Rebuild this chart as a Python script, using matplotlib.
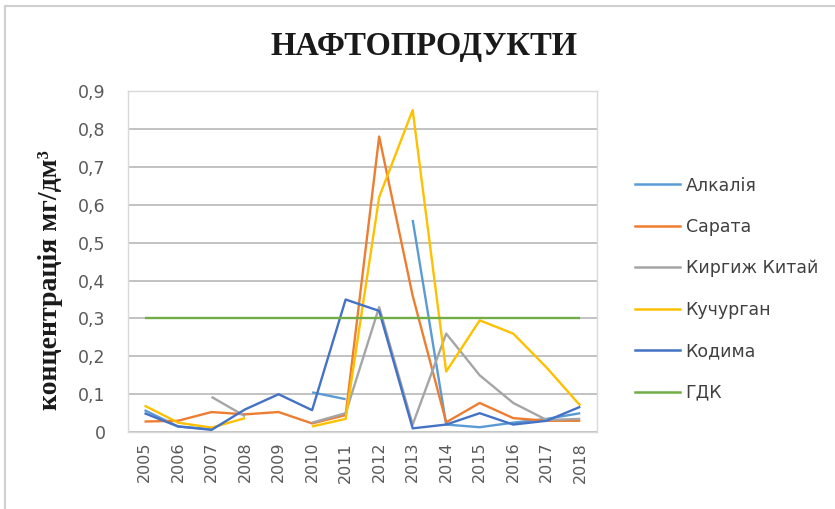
import numpy as np
import matplotlib.pyplot as plt
from matplotlib.lines import Line2D

nan = np.nan

years = list(range(2005, 2019))

# значення концентрації нафтопродуктів, мг/дм3
alkaliia = [0.058, 0.015, 0.008, nan, nan, 0.105, 0.087, nan, 0.56, 0.02, 0.013, 0.025, 0.035, 0.05]
sarata = [0.028, 0.03, 0.053, 0.047, 0.053, 0.023, 0.045, 0.78, 0.36, 0.026, 0.077, 0.037, 0.03, 0.03]
kyrhyzh_kytai = [nan, nan, 0.093, 0.042, nan, 0.025, 0.05, 0.33, 0.02, 0.26, 0.15, 0.077, 0.032, 0.035]
kuchurhan = [0.07, 0.025, 0.012, 0.037, nan, 0.015, 0.035, 0.62, 0.85, 0.16, 0.295, 0.26, 0.17, 0.07]
kodyma = [0.05, 0.015, 0.006, 0.06, 0.1, 0.058, 0.35, 0.32, 0.01, 0.02, 0.05, 0.02, 0.03, 0.067]
gdk = [0.3] * len(years)

series = [
    ("Алкалія", alkaliia, "#5B9BD5"),
    ("Сарата", sarata, "#ED7D31"),
    ("Киргиж Китай", kyrhyzh_kytai, "#A5A5A5"),
    ("Кучурган", kuchurhan, "#FFC000"),
    ("Кодима", kodyma, "#4472C4"),
    ("ГДК", gdk, "#70AD47"),
]

fig = plt.figure(figsize=(8.35, 5.09), dpi=100)
ax = fig.add_axes([0.153, 0.151, 0.562, 0.670])

for name, vals, col in series:
    ax.plot(years, vals, color=col, linewidth=1.7, label=name, solid_capstyle='butt')

ax.set_xlim(2004.5, 2018.5)
ax.set_ylim(0, 0.9)
ax.set_yticks(np.arange(0, 0.91, 0.1))
ax.set_yticklabels(["0"] + [f"{v:.1f}".replace(".", ",") for v in np.arange(0.1, 0.91, 0.1)])
ax.set_xticks(years)
ax.set_xticklabels([str(y) for y in years], rotation=90)
ax.tick_params(axis='both', length=0, colors='#595959')
ax.tick_params(axis='x', labelsize=11.5, pad=7)
ax.tick_params(axis='y', labelsize=12.5, pad=16)
ax.grid(axis='y', color='#BDBDBD', linewidth=1.3)
ax.set_axisbelow(True)
for s in ax.spines.values():
    s.set_color('#D9D9D9')
    s.set_linewidth(1.0)

fig.text(0.508, 0.908, "НАФТОПРОДУКТИ", ha='center', va='center',
         fontsize=23.5, fontweight='bold', family='Liberation Serif', color='#1a1a1a')
fig.text(0.06, 0.45, "концентрація мг/дм³", ha='center', va='center', rotation=90,
         fontsize=20, fontweight='bold', family='Liberation Serif', color='#1a1a1a')

handles = [Line2D([], [], color=c, linewidth=1.8) for _, _, c in series]
leg = fig.legend(handles, [n for n, _, _ in series], loc='center left',
                 bbox_to_anchor=(0.742, 0.432), frameon=False, fontsize=12.5,
                 handlelength=2.6, handletextpad=0.3, labelspacing=1.35)
for t in leg.get_texts():
    t.set_color('#404040')

# рамка області діаграми
fig.add_artist(Line2D([0.006, 0.006], [0.0, 0.988], color='#D0D0D0', linewidth=1.5,
                      transform=fig.transFigure))
fig.add_artist(Line2D([0.006, 1.0], [0.988, 0.988], color='#D0D0D0', linewidth=1.5,
                      transform=fig.transFigure))

fig.savefig("out.png", dpi=100, facecolor='white')
